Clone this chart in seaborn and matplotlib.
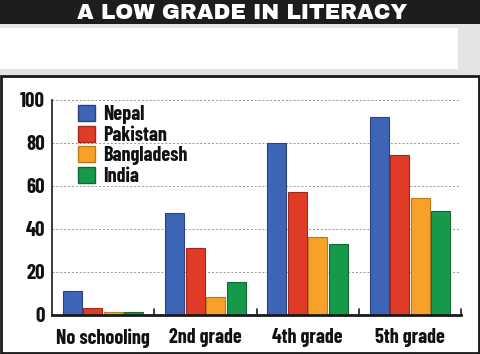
import matplotlib
matplotlib.use("Agg")
import matplotlib.pyplot as plt
from matplotlib.patches import Rectangle
import seaborn as sns
import pandas as pd

categories = ["No schooling", "2nd grade", "4th grade", "5th grade"]
countries = ["Nepal", "Pakistan", "Bangladesh", "India"]
nepal = [11, 47, 80, 92]
pakistan = [3, 31, 57, 74]
bangladesh = [1, 8, 36, 54]
india = [1, 15, 33, 48]
yticks = [0, 20, 40, 60, 80, 100]
title = "A LOW GRADE IN LITERACY"

colors = ["#3d64b5", "#e03b26", "#f7a12a", "#17994a"]
edges = ["#27447f", "#9e2a1b", "#c07a18", "#0f6b33"]

rows = []
for name, vals in zip(countries, [nepal, pakistan, bangladesh, india]):
    for c, v in zip(categories, vals):
        rows.append({"grade": c, "country": name, "value": v})
df = pd.DataFrame(rows)

sns.set_style("white")
FONT = ["Barlow Condensed", "DejaVu Sans"]
TITLE_FONT = ["Archivo Black", "DejaVu Sans"]
plt.rcParams["font.family"] = FONT
TXT = "#111111"

W, H = 480, 354
fig = plt.figure(figsize=(W / 100, H / 100), dpi=100)

def px_rect(x0, y0, x1, y1, **kw):
    fig.add_artist(Rectangle((x0 / W, 1 - y1 / H), (x1 - x0) / W, (y1 - y0) / H,
                             transform=fig.transFigure, **kw))

# header bands
px_rect(0, 0, 480, 24, facecolor="#1e1c1d", edgecolor="none", zorder=0)
px_rect(0, 24, 480, 76, facecolor="#e4e4e4", edgecolor="none", zorder=0)
px_rect(0, 28, 458, 69, facecolor="white", edgecolor="none", zorder=0)
# chart box border
px_rect(1, 76, 479, 353, facecolor="white", edgecolor="#1a1a1a", linewidth=2, zorder=0)

fig.text(242 / W, 1 - 13 / H, title, color="white", fontsize=15.5, family=TITLE_FONT,
         ha="center", va="center")

ax = fig.add_axes([52 / W, 1 - 314.5 / H, 409 / W, 215 / H])
ax.set_facecolor("none")
sns.barplot(data=df, x="grade", y="value", hue="country", hue_order=countries,
            palette=colors, width=0.8, gap=0.07, ax=ax, saturation=1, errorbar=None)

for i, cont in enumerate(ax.containers):
    for p in cont:
        p.set_edgecolor(edges[i])
        p.set_linewidth(0.8)

ax.set_xlim(-0.5, 3.5)
ax.set_ylim(0, 100)
ax.set_yticks(yticks)
ax.set_yticklabels([str(t) for t in yticks], fontsize=15, fontweight="bold", color=TXT)
ax.set_xticks(range(len(categories)))
ax.set_xticklabels(categories, fontsize=14.5, fontweight="bold", color=TXT)
ax.tick_params(axis="x", length=0, pad=10)
ax.tick_params(axis="y", length=0, pad=5)
ax.set_xlabel("")
ax.set_ylabel("")

for t in yticks[1:]:
    ax.axhline(t, color="#999999", linestyle=(0, (2, 2)), linewidth=0.7, zorder=0)

for xb in [0.5, 1.5, 2.5, 3.5]:
    ax.plot([xb, xb], [0, 2.5], color="#1a1a1a", linewidth=1.2, clip_on=False)

for s in ["top", "right"]:
    ax.spines[s].set_visible(False)
ax.spines["left"].set_color("#1a1a1a")
ax.spines["left"].set_linewidth(1.2)
ax.spines["bottom"].set_color("#1a1a1a")
ax.spines["bottom"].set_linewidth(2)

handles, labels = ax.get_legend_handles_labels()
leg = ax.legend(handles, labels, loc="upper left", bbox_to_anchor=(0.033, 1.03),
                frameon=False, handlelength=0.85, handleheight=0.85, handletextpad=0.4,
                labelspacing=0.08, prop={"family": FONT, "size": 14.5, "weight": "bold"},
                borderaxespad=0.2, labelcolor=TXT)
for h, e in zip(leg.legend_handles, edges):
    h.set_edgecolor(e)

fig.savefig("out.png", dpi=100)
